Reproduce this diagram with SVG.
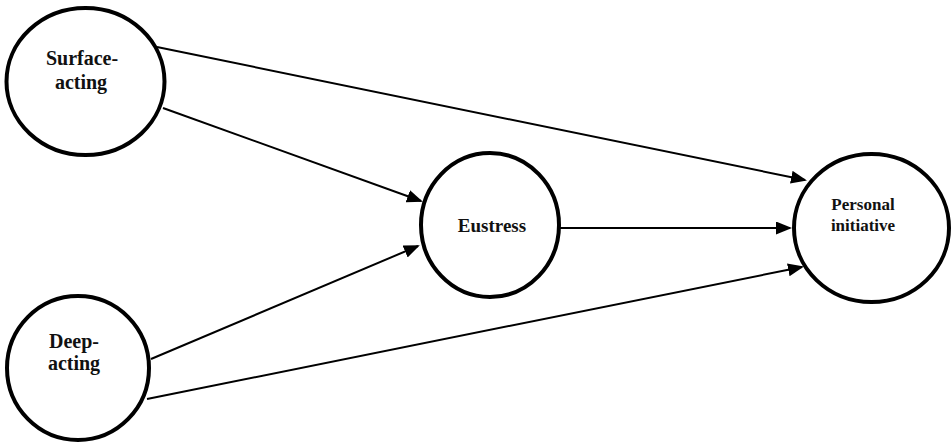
<svg xmlns="http://www.w3.org/2000/svg" width="952" height="443" viewBox="0 0 952 443">
  <style>
    .node { fill: #fff; stroke: #000; stroke-width: 4; }
    .label { font-family: "Liberation Serif", "Times New Roman", serif; font-weight: bold; fill: #111; text-anchor: middle; }
    .edge { stroke: #000; stroke-width: 2; fill: none; marker-end: url(#arrow); }
  </style>
  <defs>
    <marker id="arrow" markerUnits="userSpaceOnUse" markerWidth="17" markerHeight="14" refX="14" refY="6.5" orient="auto">
      <path d="M0,0 L16,6.5 L0,13 z" fill="#000"/>
    </marker>
  </defs>

  <g id="connectors">
    <line class="edge" x1="157" y1="47" x2="805" y2="180"/>
    <line class="edge" x1="163" y1="108" x2="421" y2="201"/>
    <line class="edge" x1="151" y1="359" x2="418" y2="246"/>
    <line class="edge" x1="147" y1="399" x2="802" y2="267"/>
    <line class="edge" x1="559" y1="228" x2="790" y2="228"/>
  </g>

  <g id="surface-acting">
    <ellipse class="node" cx="85.5" cy="81.5" rx="79" ry="73.5"/>
    <text class="label" font-size="20" x="82" y="65">Surface-</text>
    <text class="label" font-size="20" x="81" y="89">acting</text>
  </g>

  <g id="deep-acting">
    <ellipse class="node" cx="78" cy="368" rx="71" ry="72"/>
    <text class="label" font-size="20" x="74" y="348">Deep-</text>
    <text class="label" font-size="20" x="74" y="370">acting</text>
  </g>

  <g id="eustress">
    <ellipse class="node" cx="490" cy="225" rx="69" ry="72"/>
    <text class="label" font-size="19" x="492" y="232">Eustress</text>
  </g>

  <g id="personal-initiative">
    <ellipse class="node" cx="871.5" cy="228" rx="77.5" ry="74"/>
    <text class="label" font-size="17" x="863" y="210">Personal</text>
    <text class="label" font-size="17" x="863" y="231">initiative</text>
  </g>
</svg>
